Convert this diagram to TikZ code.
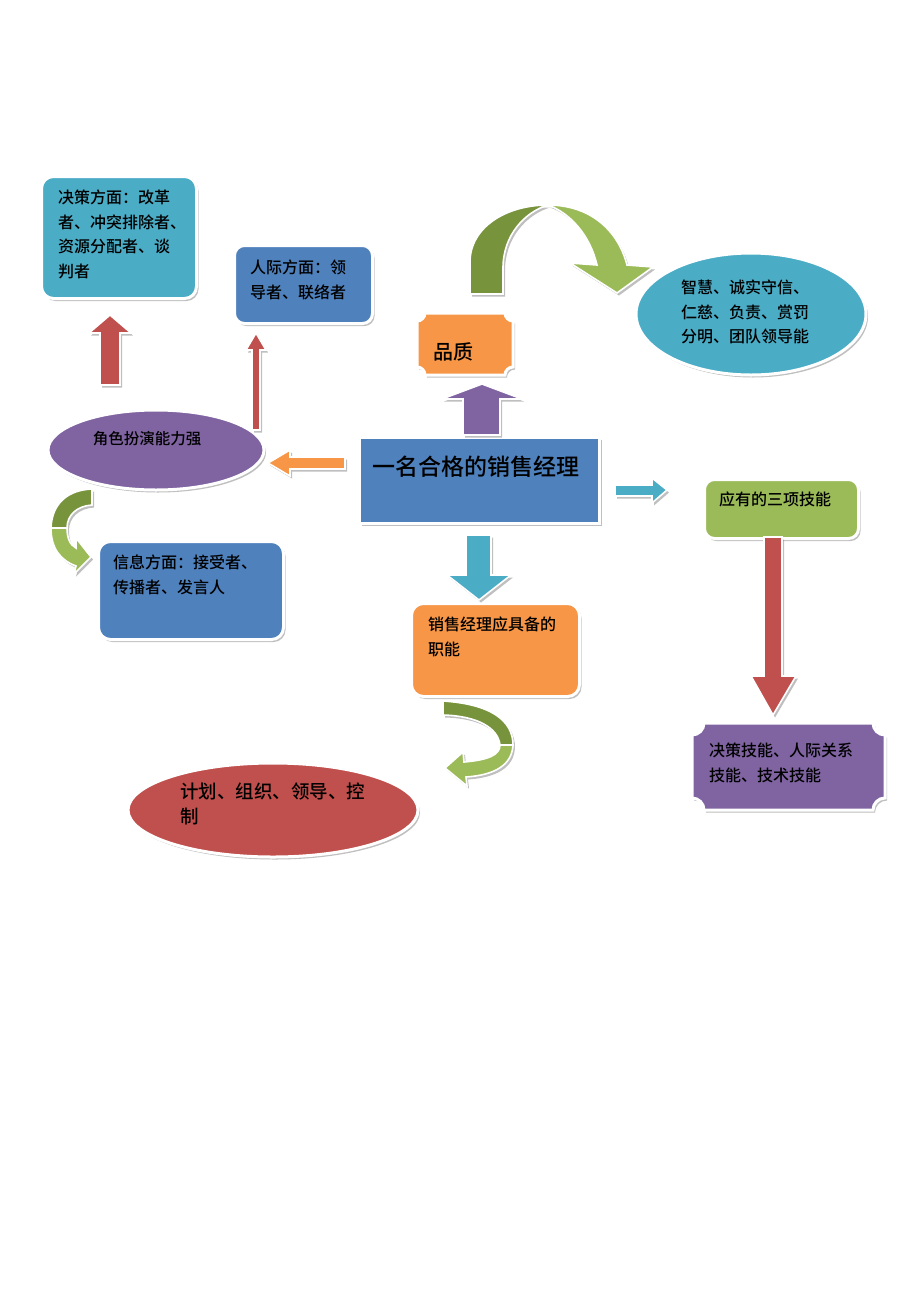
\documentclass[tikz,border=0pt]{standalone}
\usepackage{fontspec}
\setmainfont{Noto Sans CJK SC}[UprightFont={* Medium},BoldFont={* Bold}]
\usetikzlibrary{shapes.geometric,shadows}
\definecolor{tealc}{HTML}{4BACC6}
\definecolor{bluec}{HTML}{4F81BD}
\definecolor{purc}{HTML}{8064A2}
\definecolor{orac}{HTML}{F79646}
\definecolor{grnc}{HTML}{9BBB59}
\definecolor{dgrn}{HTML}{77933C}
\definecolor{redc}{HTML}{C0504D}
\tikzset{
  shd/.style={drop shadow={shadow xshift=2pt,shadow yshift=-2.5pt,opacity=.45,fill=black!55}},
  card/.style={shd,draw=white,line width=3pt,inner sep=0pt},
  rbox/.style={card,rectangle,rounded corners=12pt,anchor=north west},
  ebox/.style={card,ellipse},
  blk/.style={shd,draw=white,line width=1.6pt,line join=miter},
  txt/.style={anchor=north west,inner sep=0pt,align=left,text=black,font=\fontsize{16}{24.5}\selectfont},
}
\newcommand\plaque[6]{% x1 y1 x2 y2 r color
  \filldraw[card,fill=#6] ({#1+#5},#2) -- ({#3-#5},#2)
   .. controls ({#3-#5},{#2+0.55*#5}) and ({#3-0.55*#5},{#2+#5}) .. (#3,{#2+#5})
   -- (#3,{#4-#5})
   .. controls ({#3-0.55*#5},{#4-#5}) and ({#3-#5},{#4-0.55*#5}) .. ({#3-#5},#4)
   -- ({#1+#5},#4)
   .. controls ({#1+#5},{#4-0.55*#5}) and ({#1+0.55*#5},{#4-#5}) .. (#1,{#4-#5})
   -- (#1,{#2+#5})
   .. controls ({#1+0.55*#5},{#2+#5}) and ({#1+#5},{#2+0.55*#5}) .. cycle;}
\begin{document}
\begin{tikzpicture}[x=1pt,y=-1pt]
\useasboundingbox[fill=white] (0,0) rectangle (920,1302);

% ---- boxes ----
\node[rbox,fill=tealc,minimum width=155pt,minimum height=122pt] (jc) at (40,175) {};
\node[txt] (jct) at (58,190) {决策方面：改革\\者、冲突排除者、\\资源分配者、谈\\判者};

\node[rbox,fill=bluec,minimum width=138pt,minimum height=78pt,rounded corners=10pt] (rj) at (233,244) {};
\node[txt] (rjt) at (250,260) {人际方面：领\\导者、联络者};

\node[ebox,fill=purc,minimum width=216pt,minimum height=80pt] (js) at (156,450) {};
\node[inner sep=0pt,font=\fontsize{15.5}{18}\selectfont] (jst) at (147,439) {角色扮演能力强};

\node[card,rectangle,anchor=north west,fill=bluec,minimum width=240pt,minimum height=86pt] (main) at (358,436) {};
\node[inner sep=0pt,font=\fontsize{23}{26}\selectfont] (maint) at (476,467) {一名合格的销售经理};

\plaque{417}{313}{513}{375}{8}{orac}
\node[inner sep=0pt,font=\fontsize{20}{22}\selectfont] (pz) at (453,352) {品质};

\node[ebox,fill=tealc,minimum width=230pt,minimum height=122pt] (zh) at (751,314) {};
\node[txt] (zht) at (681,280) {智慧、诚实守信、\\仁慈、负责、赏罚\\分明、团队领导能};

\node[rbox,fill=grnc,minimum width=154pt,minimum height=59pt,rounded corners=10pt] (yy) at (703,478) {};
\node[txt] (yyt) at (719,492) {应有的三项技能};

\plaque{692}{723}{885}{810}{12}{purc}
\node[txt] (jnt) at (709,743) {决策技能、人际关系\\技能、技术技能};

\node[rbox,fill=orac,minimum width=168pt,minimum height=93pt] (zn) at (410,602) {};
\node[txt] (znt) at (428,617) {销售经理应具备的\\职能};

\node[ebox,fill=redc,minimum width=290pt,minimum height=94pt] (jh) at (273,810) {};
\node[txt,font=\fontsize{18.5}{25}\selectfont] (jht) at (180,783) {计划、组织、领导、控\\制};

\node[rbox,fill=bluec,minimum width=185pt,minimum height=98pt] (xx) at (97,540) {};
\node[txt] (xxt) at (113,555) {信息方面：接受者、\\传播者、发言人};

% ---- straight block arrows ----
\filldraw[blk,fill=redc] (110,315) -- (131,333) -- (120,333) -- (120,385) -- (100,385) -- (100,333) -- (89,333) -- cycle;
\filldraw[blk,fill=redc] (256,333) -- (266,350) -- (260,350) -- (260,430) -- (252,430) -- (252,350) -- (246,350) -- cycle;
\filldraw[blk,fill=purc] (482,384) -- (522,399) -- (500,399) -- (500,435) -- (463,435) -- (463,399) -- (442,399) -- cycle;
\filldraw[blk,fill=orac] (268,463) -- (290,450) -- (290,457) -- (345,457) -- (345,469) -- (290,469) -- (290,476) -- cycle;
\filldraw[blk,fill=tealc] (667,490) -- (652,478) -- (652,485) -- (615,485) -- (615,496) -- (652,496) -- (652,503) -- cycle;
\filldraw[blk,fill=redc] (773,715) -- (796,676) -- (782,676) -- (782,537) -- (764,537) -- (764,676) -- (751,676) -- cycle;
\filldraw[blk,fill=tealc] (479,600) -- (511,575) -- (491,575) -- (491,535) -- (466,535) -- (466,575) -- (447,575) -- cycle;

% ---- curved arrows ----
% top arc
\filldraw[blk,fill=dgrn] (470,294) -- (470,262) .. controls (470,228) and (505,205) .. (548,205)
   .. controls (525,212) and (503,235) .. (503,268) -- (503,294) -- cycle;
\filldraw[blk,fill=grnc] (548,205) .. controls (590,205) and (618,230) .. (627,265)
   -- (653,267) -- (617,293) -- (570,263) -- (597,265)
   .. controls (590,235) and (570,213) .. (548,205) -- cycle;
% left arrow
\filldraw[blk,fill=dgrn] (92,489) .. controls (68,490) and (52,503) .. (51,528)
   -- (67,528) .. controls (67,515) and (77,506) .. (92,505) -- cycle;
\filldraw[blk,fill=grnc] (51,528) .. controls (51,548) and (60,560) .. (76,566)
   -- (74,574) -- (91,557) -- (76,538) -- (76,548)
   .. controls (70,545) and (67,538) .. (67,528) -- cycle;
% lower arrow
\filldraw[blk,fill=dgrn] (443,701) .. controls (490,704) and (513,720) .. (513,745)
   -- (500,745) .. controls (498,728) and (478,716) .. (443,715) -- cycle;
\filldraw[blk,fill=grnc] (513,745) .. controls (512,765) and (495,775) .. (466,777)
   -- (467,786) -- (445,768) -- (463,752) -- (464,762)
   .. controls (488,760) and (500,755) .. (500,745) -- cycle;
\end{tikzpicture}
\end{document}
